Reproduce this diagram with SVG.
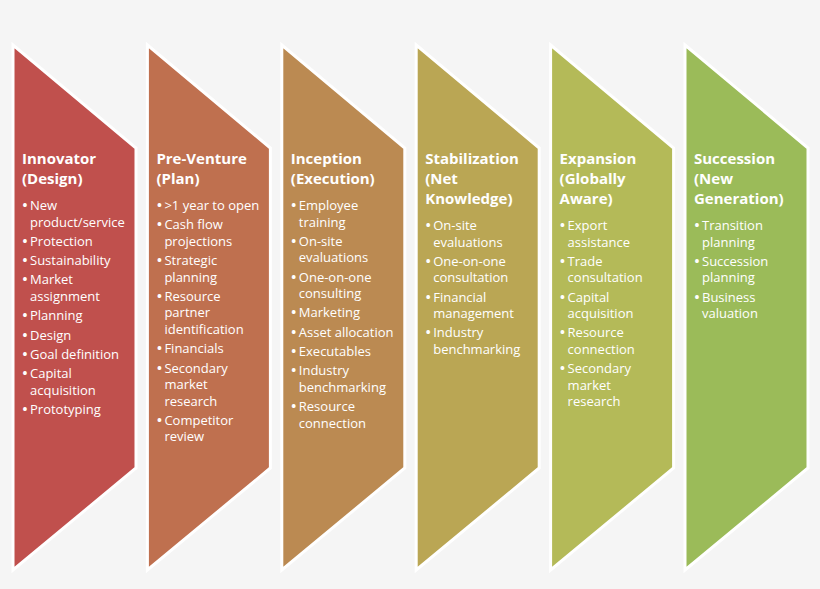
<svg xmlns="http://www.w3.org/2000/svg" width="820" height="589" viewBox="0 0 820 589">
<style>
.bg{fill:#f5f5f5}
.shape{stroke:#ffffff;stroke-width:3;stroke-linejoin:miter}
.title{font-family:"Open Sans","Liberation Sans",sans-serif;font-weight:bold;font-size:15px;fill:#ffffff}
.t{font-family:"Open Sans","Liberation Sans",sans-serif;font-size:13px;fill:#ffffff}
.dot{font-size:13px;font-weight:bold}
</style>
<rect class="bg" x="0" y="0" width="820" height="589"/>
<g id="node1">
<polygon class="shape" fill="#c0504d" points="13,45 136,148 136,468 13,570"/>
<text class="title"><tspan x="22" y="164">Innovator</tspan><tspan x="22" y="184">(Design)</tspan></text>
<text class="t"><tspan class="dot" x="22.5" y="210">•</tspan><tspan x="30" y="210">New</tspan><tspan x="30" y="226.5">product/service</tspan><tspan class="dot" x="22.5" y="245.8">•</tspan><tspan x="30" y="245.8">Protection</tspan><tspan class="dot" x="22.5" y="265.1">•</tspan><tspan x="30" y="265.1">Sustainability</tspan><tspan class="dot" x="22.5" y="284.4">•</tspan><tspan x="30" y="284.4">Market</tspan><tspan x="30" y="300.9">assignment</tspan><tspan class="dot" x="22.5" y="320.2">•</tspan><tspan x="30" y="320.2">Planning</tspan><tspan class="dot" x="22.5" y="339.5">•</tspan><tspan x="30" y="339.5">Design</tspan><tspan class="dot" x="22.5" y="358.8">•</tspan><tspan x="30" y="358.8">Goal definition</tspan><tspan class="dot" x="22.5" y="378.1">•</tspan><tspan x="30" y="378.1">Capital</tspan><tspan x="30" y="394.6">acquisition</tspan><tspan class="dot" x="22.5" y="413.9">•</tspan><tspan x="30" y="413.9">Prototyping</tspan></text>
</g>
<g id="node2">
<polygon class="shape" fill="#bf704f" points="147.4,45 270.4,148 270.4,468 147.4,570"/>
<text class="title"><tspan x="156.4" y="164">Pre-Venture</tspan><tspan x="156.4" y="184">(Plan)</tspan></text>
<text class="t"><tspan class="dot" x="156.9" y="210">•</tspan><tspan x="164.4" y="210">&gt;1 year to open</tspan><tspan class="dot" x="156.9" y="229.3">•</tspan><tspan x="164.4" y="229.3">Cash flow</tspan><tspan x="164.4" y="245.8">projections</tspan><tspan class="dot" x="156.9" y="265.1">•</tspan><tspan x="164.4" y="265.1">Strategic</tspan><tspan x="164.4" y="281.6">planning</tspan><tspan class="dot" x="156.9" y="300.9">•</tspan><tspan x="164.4" y="300.9">Resource</tspan><tspan x="164.4" y="317.4">partner</tspan><tspan x="164.4" y="333.9">identification</tspan><tspan class="dot" x="156.9" y="353.2">•</tspan><tspan x="164.4" y="353.2">Financials</tspan><tspan class="dot" x="156.9" y="372.5">•</tspan><tspan x="164.4" y="372.5">Secondary</tspan><tspan x="164.4" y="389">market</tspan><tspan x="164.4" y="405.5">research</tspan><tspan class="dot" x="156.9" y="424.8">•</tspan><tspan x="164.4" y="424.8">Competitor</tspan><tspan x="164.4" y="441.3">review</tspan></text>
</g>
<g id="node3">
<polygon class="shape" fill="#bb8a52" points="281.8,45 404.8,148 404.8,468 281.8,570"/>
<text class="title"><tspan x="290.8" y="164">Inception</tspan><tspan x="290.8" y="184">(Execution)</tspan></text>
<text class="t"><tspan class="dot" x="291.3" y="210">•</tspan><tspan x="298.8" y="210">Employee</tspan><tspan x="298.8" y="226.5">training</tspan><tspan class="dot" x="291.3" y="245.8">•</tspan><tspan x="298.8" y="245.8">On-site</tspan><tspan x="298.8" y="262.3">evaluations</tspan><tspan class="dot" x="291.3" y="281.6">•</tspan><tspan x="298.8" y="281.6">One-on-one</tspan><tspan x="298.8" y="298.1">consulting</tspan><tspan class="dot" x="291.3" y="317.4">•</tspan><tspan x="298.8" y="317.4">Marketing</tspan><tspan class="dot" x="291.3" y="336.7">•</tspan><tspan x="298.8" y="336.7">Asset allocation</tspan><tspan class="dot" x="291.3" y="356">•</tspan><tspan x="298.8" y="356">Executables</tspan><tspan class="dot" x="291.3" y="375.3">•</tspan><tspan x="298.8" y="375.3">Industry</tspan><tspan x="298.8" y="391.8">benchmarking</tspan><tspan class="dot" x="291.3" y="411.1">•</tspan><tspan x="298.8" y="411.1">Resource</tspan><tspan x="298.8" y="427.6">connection</tspan></text>
</g>
<g id="node4">
<polygon class="shape" fill="#baa654" points="416.2,45 539.2,148 539.2,468 416.2,570"/>
<text class="title"><tspan x="425.2" y="164">Stabilization</tspan><tspan x="425.2" y="184">(Net</tspan><tspan x="425.2" y="204">Knowledge)</tspan></text>
<text class="t"><tspan class="dot" x="425.7" y="230">•</tspan><tspan x="433.2" y="230">On-site</tspan><tspan x="433.2" y="246.5">evaluations</tspan><tspan class="dot" x="425.7" y="265.8">•</tspan><tspan x="433.2" y="265.8">One-on-one</tspan><tspan x="433.2" y="282.3">consultation</tspan><tspan class="dot" x="425.7" y="301.6">•</tspan><tspan x="433.2" y="301.6">Financial</tspan><tspan x="433.2" y="318.1">management</tspan><tspan class="dot" x="425.7" y="337.4">•</tspan><tspan x="433.2" y="337.4">Industry</tspan><tspan x="433.2" y="353.9">benchmarking</tspan></text>
</g>
<g id="node5">
<polygon class="shape" fill="#b4ba58" points="550.6,45 673.6,148 673.6,468 550.6,570"/>
<text class="title"><tspan x="559.6" y="164">Expansion</tspan><tspan x="559.6" y="184">(Globally</tspan><tspan x="559.6" y="204">Aware)</tspan></text>
<text class="t"><tspan class="dot" x="560.1" y="230">•</tspan><tspan x="567.6" y="230">Export</tspan><tspan x="567.6" y="246.5">assistance</tspan><tspan class="dot" x="560.1" y="265.8">•</tspan><tspan x="567.6" y="265.8">Trade</tspan><tspan x="567.6" y="282.3">consultation</tspan><tspan class="dot" x="560.1" y="301.6">•</tspan><tspan x="567.6" y="301.6">Capital</tspan><tspan x="567.6" y="318.1">acquisition</tspan><tspan class="dot" x="560.1" y="337.4">•</tspan><tspan x="567.6" y="337.4">Resource</tspan><tspan x="567.6" y="353.9">connection</tspan><tspan class="dot" x="560.1" y="373.2">•</tspan><tspan x="567.6" y="373.2">Secondary</tspan><tspan x="567.6" y="389.7">market</tspan><tspan x="567.6" y="406.2">research</tspan></text>
</g>
<g id="node6">
<polygon class="shape" fill="#9bbb59" points="685,45 808,148 808,468 685,570"/>
<text class="title"><tspan x="694" y="164">Succession</tspan><tspan x="694" y="184">(New</tspan><tspan x="694" y="204">Generation)</tspan></text>
<text class="t"><tspan class="dot" x="694.5" y="230">•</tspan><tspan x="702" y="230">Transition</tspan><tspan x="702" y="246.5">planning</tspan><tspan class="dot" x="694.5" y="265.8">•</tspan><tspan x="702" y="265.8">Succession</tspan><tspan x="702" y="282.3">planning</tspan><tspan class="dot" x="694.5" y="301.6">•</tspan><tspan x="702" y="301.6">Business</tspan><tspan x="702" y="318.1">valuation</tspan></text>
</g>
<g id="connectors"></g>
</svg>
